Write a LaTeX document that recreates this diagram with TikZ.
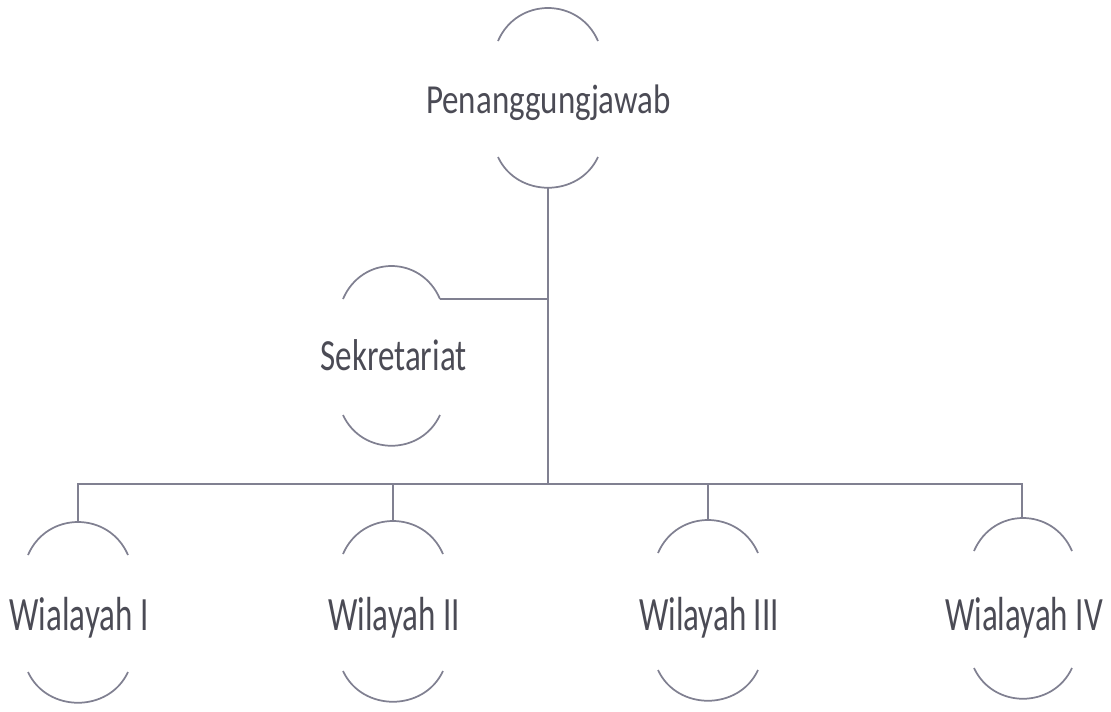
\documentclass[tikz,border=0pt]{standalone}
\usepackage{fontspec}
\setmainfont{Carlito}
\definecolor{linegray}{RGB}{128,128,145}
\definecolor{textgray}{RGB}{75,75,85}
\newcommand\bracketpair[4]{% cx, halfwidth, top end y, bottom end y
  \draw[arcline] (#1-#2,#3) .. controls (#1-#2+19,#3-44) and (#1+#2-19,#3-44) .. (#1+#2,#3);
  \draw[arcline] (#1-#2,#4) .. controls (#1-#2+19,#4+41) and (#1+#2-19,#4+41) .. (#1+#2,#4);}
\begin{document}
\begin{tikzpicture}[x=0.75pt,y=-0.75pt,
  arcline/.style={draw=linegray,line width=1.3pt},
  conn/.style={draw=linegray,line width=1.4pt},
  lbl/.style={anchor=base,inner sep=0pt,text=textgray,font=\fontsize{24.75pt}{30pt}\selectfont}]
\useasboundingbox (0,0) rectangle (1111,711);
% nodes
\node[lbl] (pj) at (548.5,113) {\scalebox{1}[1.25]{Penanggungjawab}};
\node[lbl] (sk) at (393.5,370) {\scalebox{1}[1.35]{Sekretariat}};
\node[lbl] (w1) at (79,630) {\scalebox{1}[1.45]{Wialayah I}};
\node[lbl] (w2) at (394,630) {\scalebox{1}[1.45]{Wilayah II}};
\node[lbl] (w3) at (709,630) {\scalebox{1}[1.45]{Wilayah III}};
\node[lbl] (w4) at (1024,630) {\scalebox{1}[1.45]{Wialayah IV}};
% bracket arcs
\bracketpair{548}{50}{41}{157}
\bracketpair{391.5}{48.5}{299}{415}
\bracketpair{78}{50}{555}{672}
\bracketpair{393}{50}{554}{671}
\bracketpair{708}{50}{553}{670}
\bracketpair{1023}{49}{551}{668}
% connector points
\coordinate (pjb) at (548,187);
\coordinate (skt) at (440,299);
\coordinate (j1) at (548,299);
\coordinate (bus) at (548,484);
\coordinate (b1) at (78,484);
\coordinate (b2) at (393,484);
\coordinate (b3) at (708,484);
\coordinate (b4) at (1022,484);
\coordinate (t1) at (78,522);
\coordinate (t2) at (393,521);
\coordinate (t3) at (708,520);
\coordinate (t4) at (1022,518);
% connectors
\draw[conn] (pjb) -- (bus);
\draw[conn] (skt) -- (j1);
\draw[conn] (t1) -- (b1) -- (b4) -- (t4);
\draw[conn] (b2) -- (t2);
\draw[conn] (b3) -- (t3);
\end{tikzpicture}
\end{document}
